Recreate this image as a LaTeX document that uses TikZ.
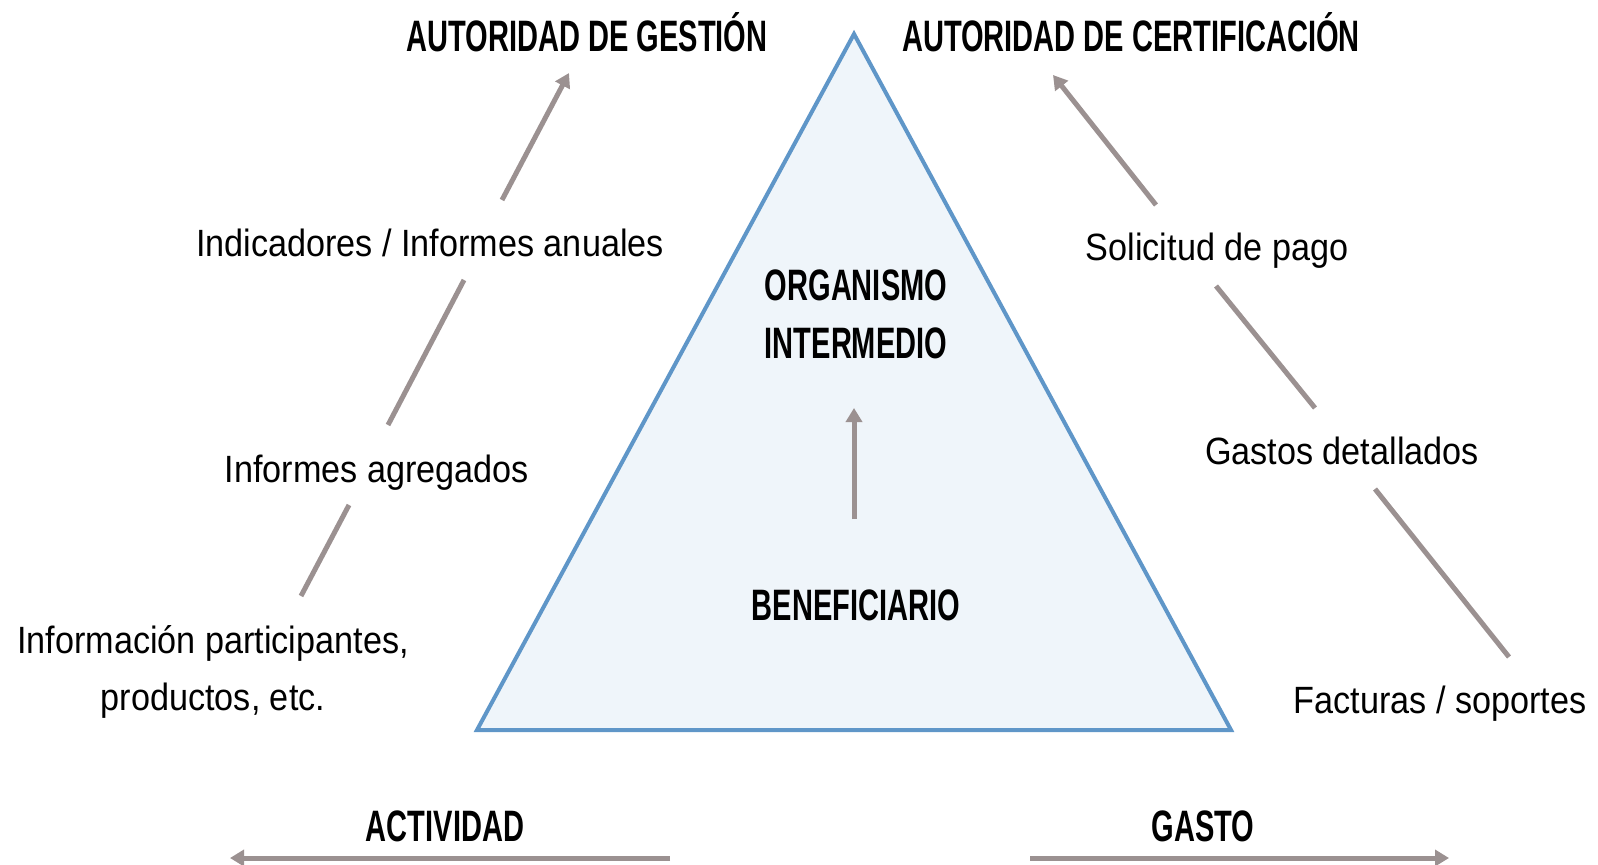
\documentclass[tikz,border=0pt]{standalone}
\usepackage{fontspec}
\setmainfont{Liberation Sans}
\newfontfamily\hdfont[FakeStretch=0.66]{Liberation Sans Bold}
\newfontfamily\txfont[FakeStretch=0.9]{Liberation Sans}
\usetikzlibrary{arrows.meta}
\definecolor{arrgray}{RGB}{155,145,145}
\definecolor{triblue}{RGB}{95,150,200}
\definecolor{trifill}{RGB}{239,245,250}
\tikzset{
  hd/.style={font=\hdfont\fontsize{22}{25}\selectfont, text=black, inner sep=0pt, align=center},
  tx/.style={font=\txfont\fontsize{19}{28.5}\selectfont, text=black, inner sep=0pt, align=center},
  con/.style={draw=arrgray, line width=2.5pt},
  arr/.style={con, -{Triangle[length=7pt,width=8pt]}},
}
\begin{document}
\begin{tikzpicture}[x=0.5pt,y=-0.5pt]
\useasboundingbox (0,0) rectangle (1598,865);
% triangle
\coordinate (tA) at (854,34);
\coordinate (tL) at (477,730);
\coordinate (tR) at (1231,730);
\draw[draw=triblue, fill=trifill, line width=2pt, line join=miter] (tA) -- (tL) -- (tR) -- cycle;
% headers
\node[hd] (ag) at (587,32) {AUTORIDAD DE GESTIÓN};
\node[hd] (ac) at (1131,32) {AUTORIDAD DE CERTIFICACIÓN};
\node[hd] (oi) at (856,314) {ORGANISMO\\[4pt]INTERMEDIO};
\node[hd] (be) at (856,605) {BENEFICIARIO};
\node[hd] (act) at (445,826) {ACTIVIDAD};
\node[hd] (gas) at (1203,826) {GASTO};
% left texts
\node[tx] (ind) at (430,243) {Indicadores / Informes anuales};
\node[tx] (iag) at (377,473) {Informes agregados};
\node[tx] (inf) at (213,672) {Información participantes,\\productos, etc.};
% right texts
\node[tx] (sol) at (1217,251) {Solicitud de pago};
\node[tx] (gd) at (1342,451) {Gastos detallados};
\node[tx] (fac) at (1440,704) {Facturas / soportes};
% connector anchors
\coordinate (l1s) at (502,200); \coordinate (l1e) at (569,73);
\coordinate (l2s) at (388,425); \coordinate (l2e) at (464,280);
\coordinate (l3s) at (301,596); \coordinate (l3e) at (349,505);
\coordinate (r1s) at (1156,205); \coordinate (r1e) at (1053,75);
\coordinate (r2s) at (1216,286); \coordinate (r2e) at (1315,408);
\coordinate (r3s) at (1375,489); \coordinate (r3e) at (1509,657);
\coordinate (ms) at (854,519); \coordinate (me) at (854,408);
\coordinate (bls) at (670,858); \coordinate (ble) at (230,858);
\coordinate (brs) at (1030,858); \coordinate (bre) at (1449,858);
\draw[arr] (l1s) -- (l1e);
\draw[con] (l2s) -- (l2e);
\draw[con] (l3s) -- (l3e);
\draw[arr] (r1s) -- (r1e);
\draw[con] (r2s) -- (r2e);
\draw[con] (r3s) -- (r3e);
\draw[arr] (ms) -- (me);
\draw[arr] (bls) -- (ble);
\draw[arr] (brs) -- (bre);
\end{tikzpicture}
\end{document}
